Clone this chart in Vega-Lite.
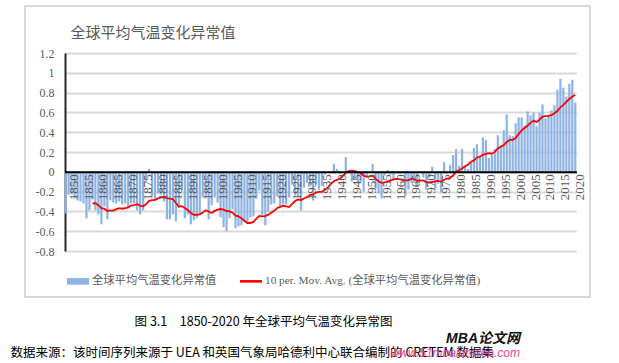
{
 "$schema": "https://vega.github.io/schema/vega-lite/v6.json",
 "width": 565,
 "height": 291,
 "autosize": {"type": "none"},
 "padding": {"left": 25, "top": 6, "right": 29, "bottom": 66},
 "background": "white",
 "config": {"view": {"stroke": "#d9d9d9", "strokeWidth": 2}},
 "title": {"text": "MBA论文网", "subtitle": "www.51mbalunwen.com", "orient": "top", "anchor": "end", "frame": "group", "offset": 0, "dx": -70, "dy": 353, "font": "Liberation Sans, Noto Sans CJK SC", "fontSize": 14, "fontWeight": "bold", "fontStyle": "italic", "color": "#111111", "subtitleFont": "Liberation Sans", "subtitleFontSize": 12, "subtitleFontStyle": "italic", "subtitleColor": "#e8459a", "subtitlePadding": 2},
 "data": {"values": [
  {"year":1850,"value":-0.42},{"year":1851,"value":-0.23},{"year":1852,"value":-0.23},{"year":1853,"value":-0.27},{"year":1854,"value":-0.29},
  {"year":1855,"value":-0.30},{"year":1856,"value":-0.32},{"year":1857,"value":-0.47},{"year":1858,"value":-0.39},{"year":1859,"value":-0.28,"ma":-0.320},
  {"year":1860,"value":-0.39,"ma":-0.317},{"year":1861,"value":-0.43,"ma":-0.337},{"year":1862,"value":-0.53,"ma":-0.367},{"year":1863,"value":-0.35,"ma":-0.375},{"year":1864,"value":-0.48,"ma":-0.394},
  {"year":1865,"value":-0.29,"ma":-0.393},{"year":1866,"value":-0.31,"ma":-0.392},{"year":1867,"value":-0.32,"ma":-0.377},{"year":1868,"value":-0.30,"ma":-0.368},{"year":1869,"value":-0.33,"ma":-0.373},
  {"year":1870,"value":-0.32,"ma":-0.366},{"year":1871,"value":-0.37,"ma":-0.360},{"year":1872,"value":-0.32,"ma":-0.339},{"year":1873,"value":-0.32,"ma":-0.336},{"year":1874,"value":-0.39,"ma":-0.327},
  {"year":1875,"value":-0.43,"ma":-0.341},{"year":1876,"value":-0.39,"ma":-0.349},{"year":1877,"value":-0.10,"ma":-0.327},{"year":1878,"value":0.03,"ma":-0.294},{"year":1879,"value":-0.25,"ma":-0.286},
  {"year":1880,"value":-0.29,"ma":-0.283},{"year":1881,"value":-0.22,"ma":-0.268},{"year":1882,"value":-0.23,"ma":-0.259},{"year":1883,"value":-0.30,"ma":-0.257},{"year":1884,"value":-0.48,"ma":-0.266},
  {"year":1885,"value":-0.48,"ma":-0.271},{"year":1886,"value":-0.43,"ma":-0.275},{"year":1887,"value":-0.50,"ma":-0.315},{"year":1888,"value":-0.35,"ma":-0.353},{"year":1889,"value":-0.19,"ma":-0.347},
  {"year":1890,"value":-0.47,"ma":-0.365},{"year":1891,"value":-0.43,"ma":-0.386},{"year":1892,"value":-0.53,"ma":-0.416},{"year":1893,"value":-0.49,"ma":-0.435},{"year":1894,"value":-0.47,"ma":-0.434},
  {"year":1895,"value":-0.43,"ma":-0.429},{"year":1896,"value":-0.26,"ma":-0.412},{"year":1897,"value":-0.26,"ma":-0.388},{"year":1898,"value":-0.48,"ma":-0.401},{"year":1899,"value":-0.34,"ma":-0.416},
  {"year":1900,"value":-0.26,"ma":-0.395},{"year":1901,"value":-0.31,"ma":-0.383},{"year":1902,"value":-0.46,"ma":-0.376},{"year":1903,"value":-0.56,"ma":-0.383},{"year":1904,"value":-0.60,"ma":-0.396},
  {"year":1905,"value":-0.47,"ma":-0.400},{"year":1906,"value":-0.38,"ma":-0.412},{"year":1907,"value":-0.57,"ma":-0.443},{"year":1908,"value":-0.55,"ma":-0.450},{"year":1909,"value":-0.54,"ma":-0.470},
  {"year":1910,"value":-0.51,"ma":-0.495},{"year":1911,"value":-0.53,"ma":-0.517},{"year":1912,"value":-0.46,"ma":-0.517},{"year":1913,"value":-0.45,"ma":-0.506},{"year":1914,"value":-0.27,"ma":-0.473},
  {"year":1915,"value":-0.19,"ma":-0.445},{"year":1916,"value":-0.44,"ma":-0.451},{"year":1917,"value":-0.54,"ma":-0.448},{"year":1918,"value":-0.40,"ma":-0.433},{"year":1919,"value":-0.33,"ma":-0.412},
  {"year":1920,"value":-0.32,"ma":-0.393},{"year":1921,"value":-0.25,"ma":-0.365},{"year":1922,"value":-0.36,"ma":-0.355},{"year":1923,"value":-0.33,"ma":-0.343},{"year":1924,"value":-0.33,"ma":-0.349},
  {"year":1925,"value":-0.26,"ma":-0.356},{"year":1926,"value":-0.13,"ma":-0.325},{"year":1927,"value":-0.24,"ma":-0.295},{"year":1928,"value":-0.25,"ma":-0.280},{"year":1929,"value":-0.39,"ma":-0.286},
  {"year":1930,"value":-0.16,"ma":-0.270},{"year":1931,"value":-0.11,"ma":-0.256},{"year":1932,"value":-0.14,"ma":-0.234},{"year":1933,"value":-0.29,"ma":-0.230},{"year":1934,"value":-0.13,"ma":-0.210},
  {"year":1935,"value":-0.18,"ma":-0.202},{"year":1936,"value":-0.14,"ma":-0.203},{"year":1937,"value":-0.03,"ma":-0.182},{"year":1938,"value":-0.01,"ma":-0.158},{"year":1939,"value":-0.01,"ma":-0.120},
  {"year":1940,"value":0.08,"ma":-0.096},{"year":1941,"value":0.03,"ma":-0.082},{"year":1942,"value":-0.02,"ma":-0.070},{"year":1943,"value":0.00,"ma":-0.041},{"year":1944,"value":0.15,"ma":-0.013},
  {"year":1945,"value":0.02,"ma":0.007},{"year":1946,"value":-0.10,"ma":0.011},{"year":1947,"value":-0.08,"ma":0.006},{"year":1948,"value":-0.10,"ma":-0.003},{"year":1949,"value":-0.10,"ma":-0.012},
  {"year":1950,"value":-0.20,"ma":-0.040},{"year":1951,"value":-0.06,"ma":-0.049},{"year":1952,"value":0.00,"ma":-0.047},{"year":1953,"value":0.08,"ma":-0.039},{"year":1954,"value":-0.17,"ma":-0.071},
  {"year":1955,"value":-0.22,"ma":-0.095},{"year":1956,"value":-0.27,"ma":-0.112},{"year":1957,"value":-0.04,"ma":-0.108},{"year":1958,"value":0.02,"ma":-0.096},{"year":1959,"value":-0.03,"ma":-0.089},
  {"year":1960,"value":-0.08,"ma":-0.077},{"year":1961,"value":-0.01,"ma":-0.072},{"year":1962,"value":-0.02,"ma":-0.074},{"year":1963,"value":0.00,"ma":-0.082},{"year":1964,"value":-0.24,"ma":-0.089},
  {"year":1965,"value":-0.18,"ma":-0.085},{"year":1966,"value":-0.11,"ma":-0.069},{"year":1967,"value":-0.11,"ma":-0.076},{"year":1968,"value":-0.14,"ma":-0.092},{"year":1969,"value":0.00,"ma":-0.089},
  {"year":1970,"value":-0.06,"ma":-0.087},{"year":1971,"value":-0.18,"ma":-0.104},{"year":1972,"value":-0.06,"ma":-0.108},{"year":1973,"value":0.05,"ma":-0.103},{"year":1974,"value":-0.18,"ma":-0.097},
  {"year":1975,"value":-0.12,"ma":-0.091},{"year":1976,"value":-0.21,"ma":-0.101},{"year":1977,"value":0.10,"ma":-0.080},{"year":1978,"value":-0.02,"ma":-0.068},{"year":1979,"value":0.07,"ma":-0.061},
  {"year":1980,"value":0.17,"ma":-0.038},{"year":1981,"value":0.23,"ma":0.003},{"year":1982,"value":0.06,"ma":0.015},{"year":1983,"value":0.23,"ma":0.033},{"year":1984,"value":0.05,"ma":0.056},
  {"year":1985,"value":0.03,"ma":0.071},{"year":1986,"value":0.09,"ma":0.101},{"year":1987,"value":0.24,"ma":0.115},{"year":1988,"value":0.28,"ma":0.145},{"year":1989,"value":0.16,"ma":0.154},
  {"year":1990,"value":0.35,"ma":0.172},{"year":1991,"value":0.32,"ma":0.181},{"year":1992,"value":0.14,"ma":0.189},{"year":1993,"value":0.17,"ma":0.183},{"year":1994,"value":0.23,"ma":0.201},
  {"year":1995,"value":0.37,"ma":0.235},{"year":1996,"value":0.27,"ma":0.253},{"year":1997,"value":0.42,"ma":0.271},{"year":1998,"value":0.58,"ma":0.301},{"year":1999,"value":0.37,"ma":0.322},
  {"year":2000,"value":0.36,"ma":0.323},{"year":2001,"value":0.49,"ma":0.340},{"year":2002,"value":0.55,"ma":0.381},{"year":2003,"value":0.55,"ma":0.419},{"year":2004,"value":0.47,"ma":0.443},
  {"year":2005,"value":0.61,"ma":0.467},{"year":2006,"value":0.57,"ma":0.497},{"year":2007,"value":0.60,"ma":0.515},{"year":2008,"value":0.46,"ma":0.503},{"year":2009,"value":0.60,"ma":0.526},
  {"year":2010,"value":0.68,"ma":0.558},{"year":2011,"value":0.54,"ma":0.563},{"year":2012,"value":0.57,"ma":0.565},{"year":2013,"value":0.62,"ma":0.572},{"year":2014,"value":0.67,"ma":0.592},
  {"year":2015,"value":0.83,"ma":0.614},{"year":2016,"value":0.94,"ma":0.651},{"year":2017,"value":0.85,"ma":0.676},{"year":2018,"value":0.76,"ma":0.706},{"year":2019,"value":0.89,"ma":0.735},
  {"year":2020,"value":0.93,"ma":0.760},{"year":2021,"value":0.70,"ma":0.776}
 ]},
 "layer": [
  {
   "mark": {"type": "bar"},
   "encoding": {
    "x": {"field": "year", "type": "ordinal",
     "scale": {"range": [39.5, 551.4], "paddingInner": 0.25, "paddingOuter": 0},
     "axis": {"orient": "bottom", "offset": -125.2, "zindex": 1,
      "values": [1850,1855,1860,1865,1870,1875,1880,1885,1890,1895,1900,1905,1910,1915,1920,1925,1930,1935,1940,1945,1950,1955,1960,1965,1970,1975,1980,1985,1990,1995,2000,2005,2010,2015,2020],
      "labelAngle": 270, "labelFont": "Liberation Serif", "labelFontSize": 13, "labelColor": "#595959", "labelPadding": 2, "labelOffset": 8, "labelOverlap": false,
      "ticks": false, "domainColor": "#000000", "domainWidth": 2, "grid": false,
      "title": "图 3.1\u30001850-2020 年全球平均气温变化异常图", "titleX": 238, "titleY": 150, "titleAlign": "center", "titleBaseline": "middle",
      "titleFont": "Noto Sans CJK SC", "titleFontSize": 12.5, "titleFontWeight": "normal", "titleColor": "#000000"}},
    "y": {"field": "value", "type": "quantitative",
     "scale": {"domain": [-0.8, 1.2], "range": [245, 47], "nice": false, "zero": false},
     "axis": {"orient": "left", "offset": -40, "tickCount": 11,
      "values": [-0.8,-0.6,-0.4,-0.2,0,0.2,0.4,0.6,0.8,1,1.2],
      "labelExpr": "'' + datum.value", "labelOverlap": false,
      "labelFont": "Liberation Serif", "labelFontSize": 12, "labelColor": "#595959", "labelPadding": 11,
      "ticks": false, "domainColor": "#262626", "domainWidth": 2, "grid": true, "gridColor": "#d9d9d9", "gridWidth": 2, "gridOpacity": 1,
      "title": "全球平均气温变化异常值", "titleAngle": 0, "titleX": 5, "titleY": 26, "titleAlign": "left", "titleBaseline": "middle",
      "titleFont": "Noto Sans CJK SC", "titleFontSize": 15, "titleFontWeight": "normal", "titleColor": "#595959"}},
    "color": {"datum": "全球平均气温变化异常值", "type": "nominal",
     "scale": {"domain": ["全球平均气温变化异常值", "10 per. Mov. Avg. (全球平均气温变化异常值)"], "range": ["#8eb4e3", "#ff0000"]},
     "legend": {"orient": "none", "legendX": 42, "legendY": 264, "direction": "horizontal", "title": null, "padding": 0,
      "symbolSize": 484, "symbolStrokeWidth": 0, "labelFont": "Liberation Serif, Noto Sans CJK SC", "labelFontSize": 11.3, "labelColor": "#595959",
      "labelLimit": 400, "labelOffset": 3, "columnPadding": 23,
      "encode": {"symbols": {"update": {
       "shape": {"signal": "datum.value === '全球平均气温变化异常值' ? 'M-1,-0.3H1V0.3H-1Z' : 'M-1,-0.12H1V0.12H-1Z'"},
       "fill": {"signal": "datum.value === '全球平均气温变化异常值' ? '#5b8ed6' : '#ff0000'"},
       "size": {"value": 484},
       "strokeWidth": {"value": 0}}}}}}
   }
  },
  {
   "mark": {"type": "line", "color": "#ff0000", "strokeWidth": 1.8},
   "encoding": {
    "x": {"field": "year", "type": "ordinal",
     "axis": {"orient": "top", "domain": false, "labels": false, "ticks": false, "grid": false,
      "title": "数据来源：该时间序列来源于 UEA 和英国气象局哈德利中心联合编制的 CRETEM 数据集", "titleX": -15, "titleY": 346, "titleAlign": "left", "titleBaseline": "middle",
      "titleFont": "Noto Sans CJK SC", "titleFontSize": 12.5, "titleFontWeight": "normal", "titleColor": "#000000"}},
    "y": {"field": "ma", "type": "quantitative"}
   }
  }
 ],
 "resolve": {"axis": {"x": "independent"}}
}
